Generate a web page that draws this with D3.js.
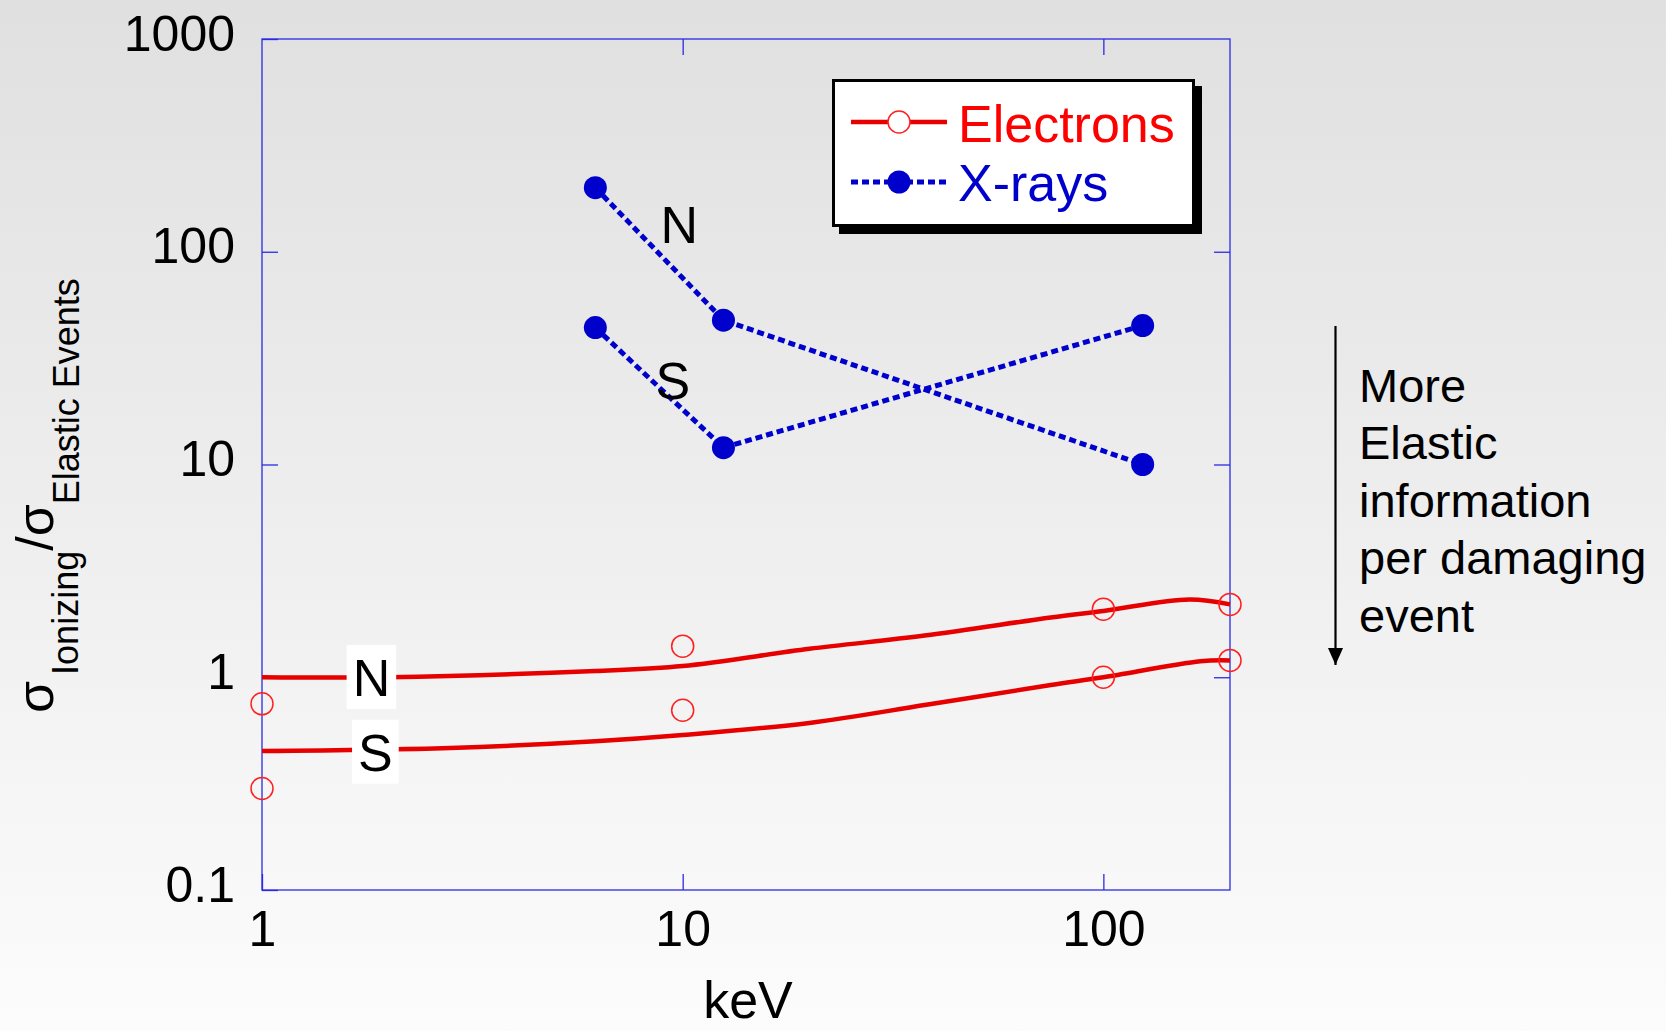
<!DOCTYPE html>
<html>
<head>
<meta charset="utf-8">
<script src="https://cdn.jsdelivr.net/npm/d3@7"></script>
<style>
  html, body { margin: 0; padding: 0; overflow: hidden; }
  svg { display: block; }
</style>
</head>
<body>
<script>
// electrons, smooth curves
var elecNx = [1, 2, 6.2, 10, 20, 37.6, 75, 100, 160, 200];
var elecNy = [1.0, 1.0, 1.07, 1.13, 1.36, 1.57, 1.91, 2.05, 2.32, 2.2];
var elecSx = [1, 2.8, 6.2, 10, 20, 37.6, 75, 100, 170, 200];
var elecSy = [0.45, 0.465, 0.50, 0.535, 0.61, 0.74, 0.92, 1.0, 1.19, 1.2];

// electrons, open circles
var elecPtX = [1, 10, 100, 200];
var elecPtUpper = [0.75, 1.40, 2.09, 2.2];
var elecPtLower = [0.30, 0.70, 1.0, 1.2];

// x-rays
var xrayX = [6.2, 12.5, 124];
var xrayN = [200, 47.7, 10];
var xrayS = [44, 12, 45];

var xTicks = [1, 10, 100];
var yTicks = [0.1, 1, 10, 100, 1000];
var yTickLabels = ["0.1", "1", "10", "100", "1000"];

var noteLines = ["More", "Elastic", "information", "per damaging", "event"];

const width = 1666, height = 1031;
const font = "Arial, 'Liberation Sans', sans-serif";

const svg = d3.select("body").append("svg")
    .attr("width", width)
    .attr("height", height)
    .style("font-family", font);

const defs = svg.append("defs");
const grad = defs.append("linearGradient")
    .attr("id", "bg")
    .attr("x1", 0).attr("y1", 0).attr("x2", 0).attr("y2", 1);
grad.append("stop").attr("offset", "0%").attr("stop-color", "#e0e0e0");
grad.append("stop").attr("offset", "100%").attr("stop-color", "#fcfcfc");

svg.append("rect")
    .attr("width", width).attr("height", height)
    .attr("fill", "url(#bg)");

const x = d3.scaleLog().domain([1, 200]).range([262, 1230]);
const y = d3.scaleLog().domain([0.1, 1000]).range([890, 39]);

const axisColor = "#2a2ae6";

// frame
svg.append("rect")
    .attr("x", x.range()[0]).attr("y", y.range()[1])
    .attr("width", x.range()[1] - x.range()[0])
    .attr("height", y.range()[0] - y.range()[1])
    .attr("fill", "none")
    .attr("stroke", axisColor)
    .attr("stroke-width", 1.3);

function styleAxis(g) {
    g.select(".domain").remove();
    g.selectAll("line").attr("stroke", axisColor).attr("stroke-width", 1.3);
    g.selectAll("text").attr("fill", "#000").style("font-family", font);
}

svg.append("g")
    .attr("transform", `translate(${x.range()[0]},0)`)
    .call(d3.axisLeft(y).tickValues(yTicks).tickSize(-16).tickPadding(27)
        .tickFormat((d, i) => yTickLabels[i]))
    .call(styleAxis)
    .call(g => g.selectAll("text").attr("font-size", 50).attr("dy", "0.22em"));

svg.append("g")
    .attr("transform", `translate(${x.range()[1]},0)`)
    .call(d3.axisRight(y).tickValues(yTicks.slice(1, -1)).tickSize(-16).tickFormat(""))
    .call(styleAxis);

svg.append("g")
    .attr("transform", `translate(0,${y.range()[0]})`)
    .call(d3.axisBottom(x).tickValues(xTicks).tickSize(-16).tickPadding(20)
        .tickFormat(d3.format("d")))
    .call(styleAxis)
    .call(g => g.selectAll("text").attr("font-size", 50));

svg.append("g")
    .attr("transform", `translate(0,${y.range()[1]})`)
    .call(d3.axisTop(x).tickValues(xTicks.slice(1)).tickSize(-16).tickFormat(""))
    .call(styleAxis);

// axis titles
svg.append("text")
    .attr("x", 748).attr("y", 1018)
    .attr("text-anchor", "middle")
    .attr("font-size", 52)
    .text("keV");

const ylab = svg.append("text")
    .attr("transform", "translate(53,713) rotate(-90)")
    .attr("font-size", 52);
ylab.append("tspan").text("σ");
ylab.append("tspan").attr("font-size", 36).attr("dy", 25).attr("dx", 6).text("Ionizing");
ylab.append("tspan").attr("dy", -25).text("/σ");
ylab.append("tspan").attr("font-size", 36).attr("dy", 26).text("Elastic Events");

// electron curves
const line = d3.line()
    .x(d => x(d[0]))
    .y(d => y(d[1]))
    .curve(d3.curveCatmullRom.alpha(0.5));

const red = "#e60000";
[[elecNx, elecNy], [elecSx, elecSy]].forEach(function (s) {
    svg.append("path")
        .datum(d3.zip(s[0], s[1]))
        .attr("fill", "none")
        .attr("stroke", red)
        .attr("stroke-width", 4.5)
        .attr("d", line);
});

[elecPtUpper, elecPtLower].forEach(function (vals) {
    svg.append("g").selectAll("circle")
        .data(d3.zip(elecPtX, vals))
        .enter().append("circle")
        .attr("cx", d => x(d[0]))
        .attr("cy", d => y(d[1]))
        .attr("r", 11)
        .attr("fill", "none")
        .attr("stroke", "#ff2020")
        .attr("stroke-width", 1.5);
});

// x-ray lines
const blue = "#0000cc";
const straight = d3.line().x(d => x(d[0])).y(d => y(d[1]));
[xrayN, xrayS].forEach(function (vals) {
    const pts = d3.zip(xrayX, vals);
    svg.append("path")
        .datum(pts)
        .attr("fill", "none")
        .attr("stroke", blue)
        .attr("stroke-width", 5)
        .attr("stroke-dasharray", "7,4")
        .attr("d", straight);
    svg.append("g").selectAll("circle")
        .data(pts)
        .enter().append("circle")
        .attr("cx", d => x(d[0]))
        .attr("cy", d => y(d[1]))
        .attr("r", 11.5)
        .attr("fill", blue);
});

// series labels
function label(xv, yv, txt, boxed) {
    const t = svg.append("text")
        .attr("x", x(xv)).attr("y", y(yv))
        .attr("dy", "0.36em")
        .attr("text-anchor", "middle")
        .attr("font-size", 52)
        .text(txt);
    if (boxed) {
        const b = t.node().getBBox();
        svg.insert("rect", () => t.node())
            .attr("x", b.x - 6).attr("y", b.y - 4)
            .attr("width", b.width + 12).attr("height", b.height + 6)
            .attr("fill", "#fff");
    }
}
label(1.82, 1.0, "N", true);
label(1.86, 0.445, "S", true);
label(9.82, 135, "N", false);
label(9.47, 25, "S", false);

// legend
const lg = svg.append("g").attr("transform", "translate(832,79)");
lg.append("rect").attr("x", 7).attr("y", 7).attr("width", 363).attr("height", 148).attr("fill", "#000");
lg.append("rect").attr("x", 1.5).attr("y", 1.5).attr("width", 360).attr("height", 145)
    .attr("fill", "#fff").attr("stroke", "#000").attr("stroke-width", 3);

lg.append("line").attr("x1", 19).attr("x2", 115).attr("y1", 43).attr("y2", 43)
    .attr("stroke", red).attr("stroke-width", 4.5);
lg.append("circle").attr("cx", 67).attr("cy", 43).attr("r", 11)
    .attr("fill", "#fff").attr("stroke", "#ff2020").attr("stroke-width", 1.5);
lg.append("text").attr("x", 126).attr("y", 63).attr("font-size", 52).attr("fill", "#ff0000").text("Electrons");

lg.append("line").attr("x1", 19).attr("x2", 115).attr("y1", 103).attr("y2", 103)
    .attr("stroke", blue).attr("stroke-width", 5).attr("stroke-dasharray", "7,4");
lg.append("circle").attr("cx", 67).attr("cy", 103).attr("r", 11.5).attr("fill", blue);
lg.append("text").attr("x", 126).attr("y", 122).attr("font-size", 52).attr("fill", blue).text("X-rays");

// right annotation
defs.append("marker")
    .attr("id", "arrow")
    .attr("viewBox", "0 0 10 10")
    .attr("refX", 10).attr("refY", 5)
    .attr("markerWidth", 17).attr("markerHeight", 15)
    .attr("markerUnits", "userSpaceOnUse")
    .attr("orient", "auto")
    .attr("preserveAspectRatio", "none")
    .append("path").attr("d", "M0,0L10,5L0,10z").attr("fill", "#000");

svg.append("line")
    .attr("x1", 1335.5).attr("x2", 1335.5)
    .attr("y1", 326).attr("y2", 665)
    .attr("stroke", "#000").attr("stroke-width", 2.2)
    .attr("marker-end", "url(#arrow)");

svg.append("g").selectAll("text")
    .data(noteLines)
    .enter().append("text")
    .attr("x", 1359)
    .attr("y", (d, i) => 402 + i * 57.4)
    .attr("font-size", 47)
    .text(d => d);
</script>
</body>
</html>
